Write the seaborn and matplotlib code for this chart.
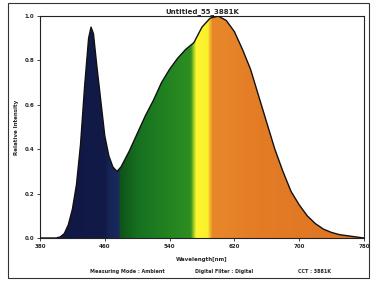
import numpy as np
import pandas as pd
import matplotlib
matplotlib.use("Agg")
import matplotlib.pyplot as plt
import seaborn as sns
from matplotlib.colors import LinearSegmentedColormap
from matplotlib.patches import Rectangle

wavelength = [380, 400, 405, 410, 415, 420, 425, 430, 435, 440, 443, 446, 450, 455, 460, 465,
              470, 475, 480, 490, 500, 510, 520, 530, 540, 550, 560, 570, 580, 590, 600,
              610, 620, 630, 640, 650, 660, 670, 680, 690, 700, 710, 720, 730, 740, 750,
              760, 770, 780]
intensity = [0.0, 0.0, 0.005, 0.02, 0.06, 0.13, 0.24, 0.42, 0.68, 0.90, 0.95, 0.92, 0.78, 0.62, 0.46, 0.37,
             0.32, 0.30, 0.32, 0.39, 0.47, 0.55, 0.62, 0.70, 0.76, 0.81, 0.85, 0.88, 0.95, 0.99, 1.0,
             0.98, 0.93, 0.85, 0.76, 0.64, 0.52, 0.40, 0.30, 0.21, 0.15, 0.10, 0.065, 0.04, 0.025, 0.015,
             0.01, 0.005, 0.0]
x_ticks = [380, 460, 540, 620, 700, 780]
y_ticks = [0.0, 0.2, 0.4, 0.6, 0.8, 1.0]
title = "Untitled_55_3881K"
footer = ["Measuring Mode : Ambient", "Digital Filter : Digital", "CCT : 3881K"]

df = pd.DataFrame({"Wavelength": wavelength, "Intensity": intensity})

sns.set_style("white")
plt.rcParams["font.family"] = ["DejaVu Sans"]

fig = plt.figure(figsize=(3.74, 2.81), dpi=100)
ax = fig.add_axes([0.107, 0.153, 0.866, 0.79])

# spectral colour gradient clipped by the spectrum
def f(w):
    return (w - 380) / 400

stops = [(0.0, "#101742"), (f(460), "#121a48"), (f(466), "#172658"), (f(477), "#18295e"),
         (f(479), "#0f5418"), (f(500), "#167020"), (f(530), "#1f8020"), (f(566), "#2e8e22"),
         (f(570), "#a8d028"), (f(573), "#fcf630"), (f(587), "#faf02a"),
         (f(593), "#e8882a"), (f(650), "#e47c26"), (1.0, "#de7422")]
cmap = LinearSegmentedColormap.from_list("spec", stops)
grad = np.linspace(0, 1, 1000).reshape(1, -1)
poly = ax.fill_between(df["Wavelength"], 0, df["Intensity"], color="none", lw=0)
img = ax.imshow(grad, extent=[380, 780, 0, 1.0], aspect="auto", cmap=cmap, origin="lower", zorder=1)
path = poly.get_paths()[0]
img.set_clip_path(path, ax.transData)

sns.lineplot(data=df, x="Wavelength", y="Intensity", ax=ax, color="#111111", lw=1.0, zorder=3)

ax.set_xlim(380, 780)
ax.set_ylim(0, 1.0)
ax.set_xticks(x_ticks)
ax.set_yticks(y_ticks)
ax.set_xticklabels([str(v) for v in x_ticks], fontsize=4, fontweight="bold")
ax.set_yticklabels([f"{v:.1f}" for v in y_ticks], fontsize=4, fontweight="bold")
ax.tick_params(direction="out", length=2, width=0.6, pad=2, left=True, bottom=True)
for s in ax.spines.values():
    s.set_color("#222222")
    s.set_linewidth(0.8)
ax.set_xlabel("Wavelength[nm]", fontsize=4, fontweight="bold", labelpad=6)
ax.set_ylabel("Relative Intensity", fontsize=4, fontweight="bold", labelpad=4)
ax.set_title(title, fontsize=5, fontweight="bold", pad=2)

fig.text(0.34, 0.028, footer[0], fontsize=3.5, fontweight="bold", ha="center")
fig.text(0.60, 0.028, footer[1], fontsize=3.5, fontweight="bold", ha="center")
fig.text(0.84, 0.028, footer[2], fontsize=3.5, fontweight="bold", ha="center")
fig.add_artist(Rectangle((0.022, 0.01), 0.965, 0.98, transform=fig.transFigure,
                         fill=False, edgecolor="#333333", lw=0.8))

fig.savefig("out.png", dpi=100)
